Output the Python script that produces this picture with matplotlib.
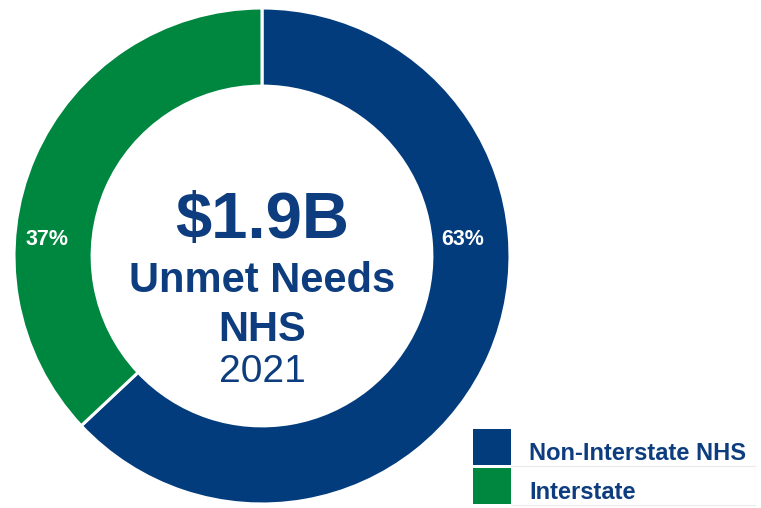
import matplotlib
matplotlib.use("Agg")
import matplotlib.pyplot as plt
from matplotlib.patches import Rectangle

plt.rcParams["font.family"] = ["Liberation Sans", "DejaVu Sans"]

# Share of 2021 unmet needs on the NHS
categories = ["Non-Interstate NHS", "Interstate"]
shares = [63, 37]
pct_labels = ["63%", "37%"]
colors = ["#023C7C", "#00873F"]
text_blue = "#0D3D7E"

total_label = "$1.9B"
title_lines = ["Unmet Needs", "NHS"]
year_label = "2021"

W, H, DPI = 761, 508, 100
fig = plt.figure(figsize=(W / DPI, H / DPI), dpi=DPI)

# Donut geometry in pixels
cx, cy, R = 262, 256, 248
ax = fig.add_axes([(cx - R) / W, (H - cy - R) / H, 2 * R / W, 2 * R / H])

wedges, _ = ax.pie(
    shares,
    colors=colors,
    startangle=90,
    counterclock=False,
    radius=1.0,
    wedgeprops=dict(width=0.315, edgecolor="white", linewidth=2.2),
)
ax.set_xlim(-1, 1)
ax.set_ylim(-1, 1)
ax.set_aspect("equal")
ax.axis("off")

# Percentage labels placed in the ring
ax.text(0.81, 0.065, pct_labels[0], color="white", fontsize=15.5,
        fontweight="bold", ha="center", va="center")
ax.text(-0.865, 0.065, pct_labels[1], color="white", fontsize=15.5,
        fontweight="bold", ha="center", va="center")

# Centre text
dy = -0.012
ax.text(0.0, 0.155 + dy, total_label, color=text_blue, fontsize=47,
        fontweight="bold", ha="center", va="center")
ax.text(0.0, -0.09 + dy, title_lines[0], color=text_blue, fontsize=30,
        fontweight="bold", ha="center", va="center")
ax.text(0.0, -0.285 + dy, title_lines[1], color=text_blue, fontsize=30,
        fontweight="bold", ha="center", va="center")
ax.text(0.0, -0.455 + dy, year_label, color=text_blue, fontsize=28,
        ha="center", va="center")

# Legend table drawn on a pixel-space overlay
lx = fig.add_axes([0, 0, 1, 1], facecolor="none")
lx.set_xlim(0, W)
lx.set_ylim(H, 0)
lx.axis("off")

row_top, row_h, row_gap = 429, 36, 3
sw_x, sw_w = 472.5, 38.5
for i, (name, col) in enumerate(zip(categories, colors)):
    top = row_top + i * (row_h + row_gap)
    lx.add_patch(Rectangle((sw_x, top), sw_w, row_h, facecolor=col,
                           edgecolor="none"))
    lx.text(529, top + 31, name,
            color=text_blue, fontsize=17, fontweight="bold",
            ha="left", va="baseline")
    # faint row rule
    lx.plot([sw_x + sw_w, 755], [top + row_h + 0.5] * 2, color="#EAEAEA", lw=0.8)

fig.savefig("out.png", dpi=DPI, facecolor="white")
